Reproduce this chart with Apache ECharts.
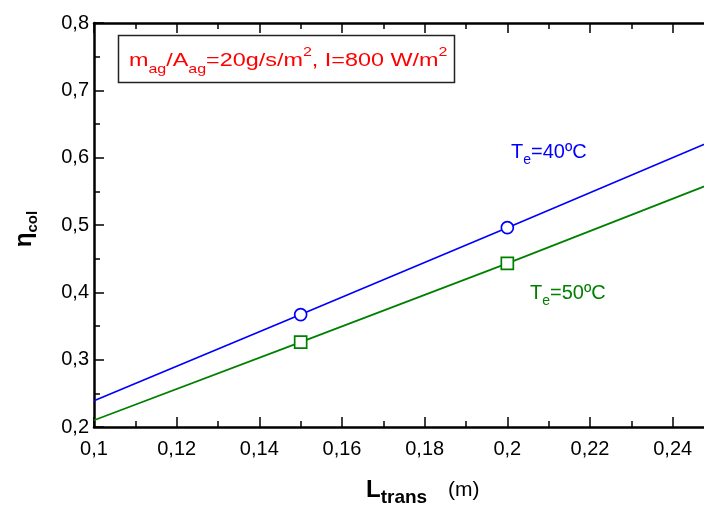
<!DOCTYPE html>
<html><head><meta charset="utf-8">
<script src="https://cdn.jsdelivr.net/npm/echarts@6/dist/echarts.min.js"></script>
<style>html,body{margin:0;padding:0;background:#fff}#c{width:704px;height:507px}</style>
</head><body><div id="c"></div>
<script>
const xTicks = [0.1,0.12,0.14,0.16,0.18,0.2,0.22,0.24];
const xTickLabels = ['0,1','0,12','0,14','0,16','0,18','0,2','0,22','0,24'];
const yTicks = [0.2,0.3,0.4,0.5,0.6,0.7,0.8];
const yTickLabels = ['0,2','0,3','0,4','0,5','0,6','0,7','0,8'];
const lTrans = [0.1, 0.15, 0.2, 0.25];
const eta40 = [0.239, 0.367, 0.496, 0.626];
const eta50 = [0.210, 0.326, 0.443, 0.563];
const markedAt = [0.15, 0.2];

function lbl(ticks, labels){
  return function(v){
    for (let i=0;i<ticks.length;i++){ if (Math.abs(ticks[i]-v)<1e-6) return labels[i]; }
    return '';
  };
}
function mk(xs, ys){
  return xs.map((x,i)=>({value:[x,ys[i]], symbol: markedAt.some(m=>Math.abs(m-x)<1e-9)?undefined:'none'}));
}
const font = '"Liberation Sans", Arial, sans-serif';
const chart = echarts.init(document.getElementById('c'));
const axisLineStyle = {color:'#000', width:2.5};
const tickCommon = {show:true, inside:true, length:10, lineStyle:{color:'#000', width:1.5}};
const minorCommon = {show:true, splitNumber:2, length:6, lineStyle:{color:'#000', width:1.5}};
chart.setOption({
  animation:false,
  grid:{left:94, top:23, width:620, height:404, containLabel:false, outerBoundsMode:'none'},
  xAxis:[{
    type:'value', min:0.1, max:0.25, interval:0.02, position:'bottom',
    axisLine:{show:true, lineStyle:axisLineStyle, onZero:false},
    axisTick:tickCommon, minorTick:minorCommon,
    axisLabel:{show:true, formatter:lbl(xTicks,xTickLabels), color:'#000', fontSize:20, fontFamily:font, margin:12},
    splitLine:{show:false}
  },{
    type:'value', min:0.1, max:0.25, interval:0.02, position:'top',
    axisLine:{show:true, lineStyle:axisLineStyle, onZero:false},
    axisTick:tickCommon, minorTick:minorCommon,
    axisLabel:{show:false}, splitLine:{show:false}
  }],
  yAxis:[{
    type:'value', min:0.2, max:0.8, interval:0.1,
    axisLine:{show:true, lineStyle:axisLineStyle, onZero:false},
    axisTick:tickCommon, minorTick:minorCommon,
    axisLabel:{show:true, formatter:lbl(yTicks,yTickLabels), color:'#000', fontSize:20, fontFamily:font, margin:5},
    splitLine:{show:false}
  }],
  series:[{
    type:'line', data:mk(lTrans,eta40), symbol:'circle', symbolSize:12,
    lineStyle:{color:'#0000ff', width:1.7},
    itemStyle:{color:'#fff', borderColor:'#0000ff', borderWidth:1.7},
    emphasis:{disabled:true}, clip:true
  },{
    type:'line', data:mk(lTrans,eta50), symbol:'rect', symbolSize:12,
    lineStyle:{color:'#008000', width:1.7},
    itemStyle:{color:'#fff', borderColor:'#008000', borderWidth:1.7},
    emphasis:{disabled:true}, clip:true
  }],
  graphic:[
    {type:'rect', shape:{x:118.5, y:35.5, width:336, height:47}, style:{fill:'#fff', stroke:'#222', lineWidth:1.5}},
    {type:'text', x:129, y:61, scaleX:1.23, style:{
      text:'{m|m}{s|ag}{m|/A}{s|ag}{m|=20g/s/m}{p|2}{m|, I=800 W/m}{p|2}',
      verticalAlign:'middle',
      rich:{
        m:{fontSize:19, fontFamily:font, fill:'#ff0000', lineHeight:30},
        s:{fontSize:13, fontFamily:font, fill:'#ff0000', verticalAlign:'bottom', lineHeight:30, padding:[12,0,0,0]},
        p:{fontSize:13, fontFamily:font, fill:'#ff0000', verticalAlign:'top', lineHeight:30, padding:[0,0,10,0]}
      }}},
    {type:'text', x:511, y:152, style:{
      text:'{m|T}{s|e}{m|=40ºC}', verticalAlign:'middle',
      rich:{
        m:{fontSize:20, fontFamily:font, fill:'#0000ff', lineHeight:30},
        s:{fontSize:14, fontFamily:font, fill:'#0000ff', verticalAlign:'bottom', lineHeight:30, padding:[12,0,0,0]}
      }}},
    {type:'text', x:530, y:293, style:{
      text:'{m|T}{s|e}{m|=50ºC}', verticalAlign:'middle',
      rich:{
        m:{fontSize:20, fontFamily:font, fill:'#008000', lineHeight:30},
        s:{fontSize:14, fontFamily:font, fill:'#008000', verticalAlign:'bottom', lineHeight:30, padding:[12,0,0,0]}
      }}},
    {type:'text', x:366, y:490, style:{
      text:'{b|L}{s|trans}{m|(m)}', verticalAlign:'middle',
      rich:{
        b:{fontSize:24, fontWeight:'bold', fontFamily:font, fill:'#000', lineHeight:34},
        s:{fontSize:19, fontWeight:'bold', fontFamily:font, fill:'#000', verticalAlign:'bottom', lineHeight:34, padding:[14,0,0,0]},
        m:{fontSize:21, fontFamily:font, fill:'#000', lineHeight:34, padding:[0,0,0,21]}
      }}},
    {type:'text', x:24, y:229, rotation:Math.PI/2, style:{
      text:'{b|η}{s|col}', align:'center', verticalAlign:'middle',
      rich:{
        b:{fontSize:24, fontWeight:'bold', fontFamily:font, fill:'#000', lineHeight:32},
        s:{fontSize:15, fontWeight:'bold', fontFamily:font, fill:'#000', verticalAlign:'bottom', lineHeight:32, padding:[10,0,0,0]}
      }}}
  ]
});
</script></body></html>
